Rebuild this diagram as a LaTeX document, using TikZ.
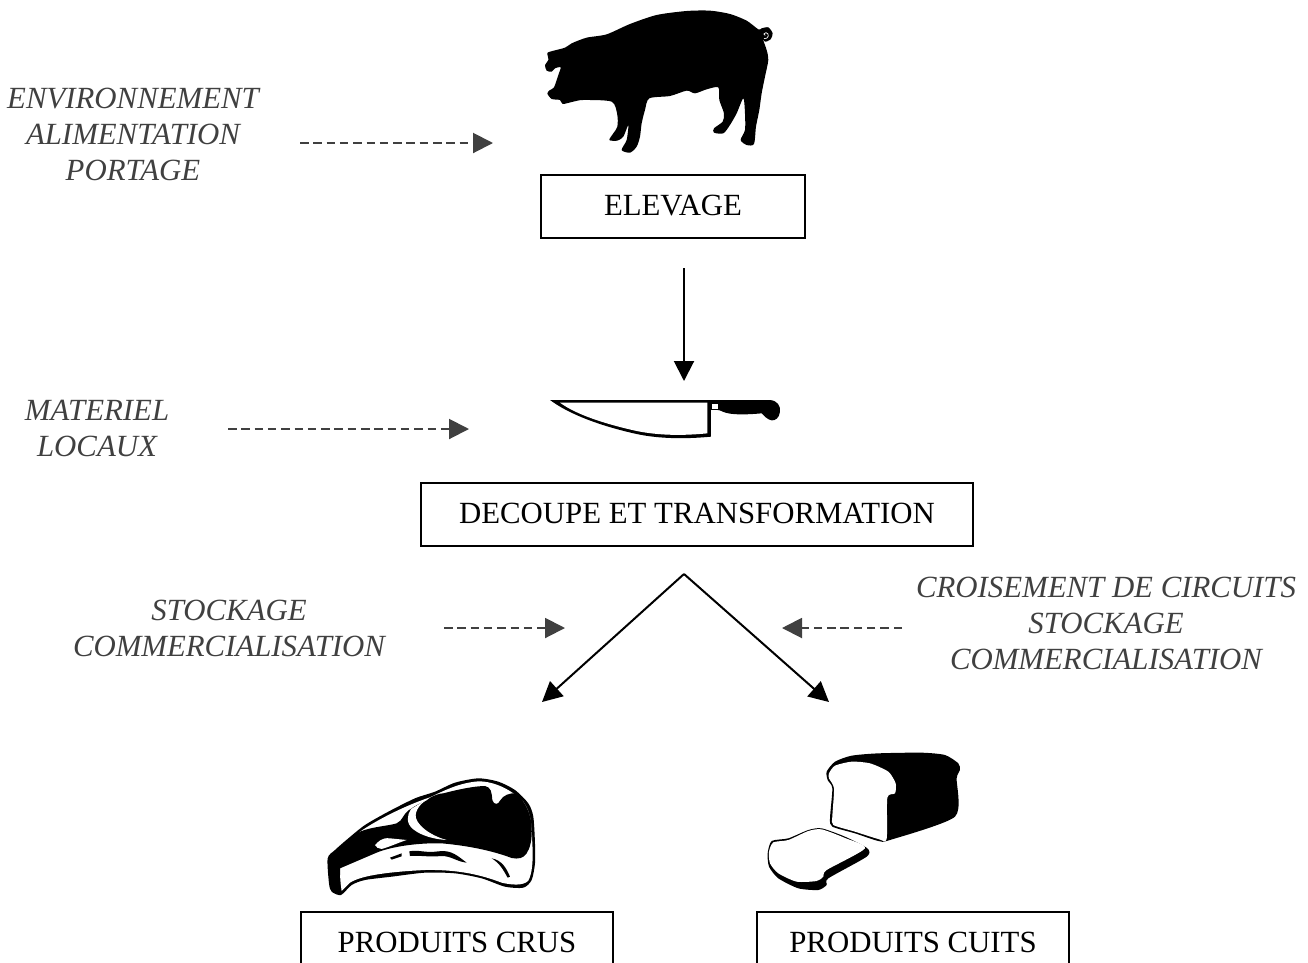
\documentclass[tikz,border=0pt]{standalone}
\usepackage{fontspec}
\setmainfont{Liberation Serif}
\usetikzlibrary{arrows.meta}
\definecolor{notegray}{HTML}{404040}
\definecolor{dashgray}{HTML}{404040}
\tikzset{
  stagebox/.style={draw=black,line width=2pt,inner sep=0pt,font=\fontsize{30.8}{36}\selectfont},
  note/.style={align=center,inner sep=0pt,text=notegray,font=\fontsize{30.8}{36}\selectfont\itshape},
  mainarrow/.style={draw=black,line width=2pt,-{Triangle[length=20pt,width=20pt]}},
  notearrow/.style={draw=dashgray,line width=2pt,dash pattern=on 8.5pt off 4.8pt,-{Triangle[length=20pt,width=20pt]}},
  art/.style={x=0.3333pt,y=-0.3333pt},
  sm/.style={smooth cycle,tension=0.45}
}
\newcommand{\boxtext}[1]{\raisebox{1.5pt}{#1}}
\begin{document}
\begin{tikzpicture}[x=1pt,y=-1pt]
\useasboundingbox (0,0) rectangle (1308,962);
\fill[white] (0,0) rectangle (1308,962);
% pig
\begin{scope}[shift={(530,0)},art]
\fill[black] plot[sm] coordinates {(60,155)(105,143)(125,130)(170,113)(230,103)(300,72)(380,45)(470,33)(540,32)(600,42)(650,62)(685,88)(695,85)(715,82)(728,100)(722,118)(705,125)(697,113)(710,150)(715,180)(705,230)(695,280)(688,330)(678,380)(672,432)(650,435)(632,420)(645,390)(645,340)(640,295)(620,340)(600,375)(580,400)(552,398)(552,385)(578,365)(582,340)(568,300)(565,262)(530,268)(495,280)(470,272)(420,288)(358,295)(345,330)(335,370)(330,410)(320,440)(300,458)(275,450)(290,420)(295,375)(280,410)(262,422)(238,420)(250,400)(262,380)(262,345)(245,305)(160,300)(130,305)(98,312)(90,300)(65,297)(52,280)(60,270)(72,262)(85,225)(92,202)(75,205)(65,215)(50,212)(45,195)(55,180)(52,160)};
\draw[white,line width=0.7pt] (702,116) .. controls (716,118) and (720,100) .. (708,98) .. controls (700,98) and (700,106) .. (706,106);
\end{scope}
% knife
\begin{scope}[shift={(540,385)},art]
\fill[black] (30,45) -- (690,45) .. controls (712,47) and (722,62) .. (720,80) .. controls (718,100) and (705,107) .. (695,106) .. controls (682,104) and (672,92) .. (665,85) .. controls (630,88) and (575,92) .. (548,80) .. controls (540,74) and (525,74) .. (513,75) -- (513,155) .. controls (440,162) and (360,162) .. (290,147) .. controls (190,125) and (90,90) .. (30,45) -- cycle;
\fill[white] (60,53) -- (502,53) -- (502,145) .. controls (430,152) and (360,152) .. (290,138) .. controls (200,118) and (110,90) .. (60,53) -- cycle;
\fill[white] (516,57) rectangle (534,71);
\end{scope}
% steak
\begin{scope}[shift={(315,760)},art]
\fill[black] plot[sm] coordinates {(38,295)(60,270)(100,235)(150,195)(220,155)(300,115)(360,95)(420,68)(490,55)(550,65)(600,90)(640,130)(655,170)(660,250)(660,310)(650,360)(625,383)(570,380)(500,355)(420,340)(330,338)(230,350)(150,360)(110,375)(78,405)(50,395)(42,370)};
\fill[white] (135,215) .. controls (200,170) and (290,130) .. (345,112) .. controls (400,85) and (440,68) .. (490,64) .. controls (540,64) and (590,90) .. (625,125) .. controls (650,160) and (650,200) .. (652,250) .. controls (655,300) and (652,340) .. (640,362) .. controls (625,378) and (590,375) .. (560,368) .. controls (500,345) and (430,328) .. (330,330) .. controls (230,335) and (140,345) .. (105,368) -- (80,393) .. controls (76,370) and (75,350) .. (75,325) -- cycle;
\fill[black] (135,215) .. controls (170,200) and (220,198) .. (245,190) .. controls (265,182) and (262,160) .. (290,145) .. controls (310,130) and (335,125) .. (345,113) .. controls (360,105) and (375,100) .. (385,100) .. controls (430,88) and (480,78) .. (510,78) .. controls (528,82) and (530,95) .. (532,120) .. controls (536,135) and (550,135) .. (555,122) .. controls (565,105) and (585,98) .. (605,100) .. controls (630,125) and (648,160) .. (650,200) .. controls (652,240) and (645,265) .. (635,280) .. controls (625,295) and (610,298) .. (590,294) .. controls (540,275) and (470,258) .. (380,250) .. controls (300,248) and (220,262) .. (180,280) -- (75,325) -- (75,345) -- (45,340) -- (60,280) -- cycle;
\fill[white] (346,112) .. controls (325,125) and (305,140) .. (302,165) .. controls (300,190) and (340,225) .. (395,240) .. controls (360,238) and (320,228) .. (295,208) .. controls (272,190) and (276,165) .. (288,147) -- cycle;
\fill[white] (180,255) .. controls (190,245) and (200,232) .. (225,235) -- (275,240) .. controls (250,248) and (230,258) .. (200,267) .. controls (190,266) and (183,262) .. (180,255) -- cycle;
\fill[black] (225,293) -- (260,280) -- (260,289) -- (230,299) -- cycle;
\fill[black] (283,274) .. controls (310,268) and (330,280) .. (370,274) .. controls (410,268) and (430,290) .. (455,308) .. controls (425,305) and (410,288) .. (380,288) .. controls (340,292) and (310,285) .. (285,288) -- cycle;
\fill[black] (530,295) .. controls (560,300) and (575,325) .. (585,350) -- (578,353) .. controls (565,330) and (555,310) .. (530,295) -- cycle;
\end{scope}
% bread
\begin{scope}[shift={(755,745)},art]
\fill[black] plot[smooth cycle,tension=0.4] coordinates {(215,80)(240,50)(290,32)(370,25)(500,23)(570,30)(610,55)(615,75)(605,100)(600,215)(405,285)(370,288)(300,265)(232,245)(225,220)(232,130)(218,105)};
\fill[white] plot[smooth cycle,tension=0.4] coordinates {(222,85)(240,62)(290,50)(345,55)(400,80)(422,115)(420,145)(397,158)(395,282)(370,282)(300,260)(235,240)(232,215)(237,130)(222,100)};
\fill[black] plot[smooth cycle,tension=0.4] coordinates {(38,325)(50,288)(100,280)(160,255)(200,250)(270,275)(337,310)(335,335)(220,400)(215,420)(190,435)(130,430)(70,400)(42,365)};
\fill[white] plot[smooth cycle,tension=0.4] coordinates {(42,320)(55,292)(100,285)(160,258)(200,253)(270,279)(330,310)(215,375)(205,395)(185,408)(125,410)(70,385)(45,355)};
\end{scope}
% boxes
\node[stagebox,minimum width=264pt,minimum height=63pt] (elevage) at (673,206.5) {\boxtext{ELEVAGE}};
\node[stagebox,minimum width=552pt,minimum height=63pt] (decoupe) at (697,514.5) {\boxtext{DECOUPE ET TRANSFORMATION}};
\node[stagebox,minimum width=312pt,minimum height=63pt] (crus) at (457,943.5) {\boxtext{PRODUITS CRUS}};
\node[stagebox,minimum width=312pt,minimum height=63pt] (cuits) at (913,943.5) {\boxtext{PRODUITS CUITS}};
% notes
\node[note] (n1) at (133,134.5) {ENVIRONNEMENT\\ALIMENTATION\\PORTAGE};
\node[note] (n2) at (97,428.5) {MATERIEL\\LOCAUX};
\node[note] (n3) at (229,628.5) {STOCKAGE\\COMMERCIALISATION};
\node[note] (n4) at (1106,623.5) {CROISEMENT DE CIRCUITS\\STOCKAGE\\COMMERCIALISATION};
% connector ends
\coordinate (a1s) at (300,143); \coordinate (a1e) at (493,143);
\coordinate (a2s) at (228,429); \coordinate (a2e) at (469,429);
\coordinate (a3s) at (444,628); \coordinate (a3e) at (565,628);
\coordinate (a4s) at (902,628); \coordinate (a4e) at (782,628);
\coordinate (m1s) at (684,268); \coordinate (m1e) at (684,381);
\coordinate (apex) at (684,574); \coordinate (vl) at (542,702); \coordinate (vr) at (829,702);
\draw[notearrow] (a1s) -- (a1e);
\draw[notearrow] (a2s) -- (a2e);
\draw[notearrow] (a3s) -- (a3e);
\draw[notearrow] (a4s) -- (a4e);
\draw[mainarrow] (m1s) -- (m1e);
\draw[mainarrow] (apex) -- (vl);
\draw[mainarrow] (apex) -- (vr);
\end{tikzpicture}
\end{document}
